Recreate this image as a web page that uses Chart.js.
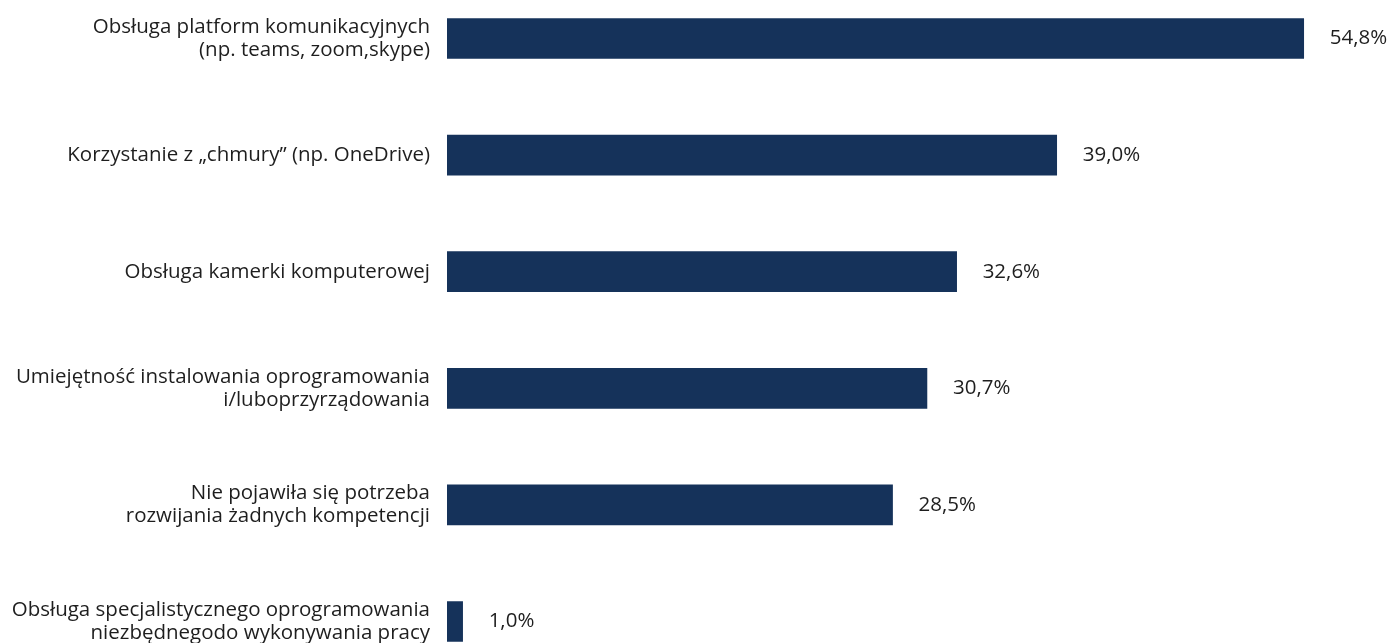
<!DOCTYPE html>
<html>
<head>
<meta charset="utf-8">
<script src="https://cdn.jsdelivr.net/npm/chart.js@4"></script>
<style>
  html, body { margin: 0; padding: 0; background: #fff; overflow: hidden; }
  #wrap { position: absolute; left: 0; top: -60px; width: 1389px; height: 780px; }
</style>
</head>
<body>
<div id="wrap"><canvas id="barChart"></canvas></div>
<script>
// kategorie (etykiety osi Y, wieloliniowe)
const categories = [
    ['Obsługa platform komunikacyjnych', '(np. teams, zoom,skype)'],
    ['Korzystanie z „chmury” (np. OneDrive)'],
    ['Obsługa kamerki komputerowej'],
    ['Umiejętność instalowania oprogramowania', 'i/luboprzyrządowania'],
    ['Nie pojawiła się potrzeba', 'rozwijania żadnych kompetencji'],
    ['Obsługa specjalistycznego oprogramowania', 'niezbędnegodo wykonywania pracy']
];

// wartości w %
const values = [54.8, 39.0, 32.6, 30.7, 28.5, 1.0];

const FONT = '"Open Sans", Lato, sans-serif';

// etykiety wartości za słupkami
const valueLabels = {
    id: 'valueLabels',
    afterDatasetsDraw(chart) {
        const ctx = chart.ctx;
        const meta = chart.getDatasetMeta(0);
        ctx.save();
        ctx.font = '20.5px ' + FONT;
        ctx.fillStyle = '#1e1e1e';
        ctx.textAlign = 'left';
        ctx.textBaseline = 'middle';
        meta.data.forEach(function(bar, i) {
            const txt = values[i].toFixed(1).replace('.', ',') + '%';
            ctx.fillText(txt, bar.x + 26, bar.y);
        });
        ctx.restore();
    }
};

new Chart(document.getElementById('barChart'), {
    type: 'bar',
    data: {
        labels: categories,
        datasets: [{
            data: values,
            backgroundColor: '#15325a',
            barThickness: 40
        }]
    },
    options: {
        indexAxis: 'y',
        responsive: true,
        maintainAspectRatio: false,
        animation: false,
        layout: { padding: { left: 0, right: 4, top: 0, bottom: 0 } },
        plugins: {
            legend: { display: false },
            tooltip: { enabled: false }
        },
        scales: {
            x: {
                display: false,
                min: 0,
                max: 60
            },
            y: {
                grid: { display: false, drawTicks: false },
                border: { display: false },
                afterFit: function(scale) { scale.width = 447; },
                ticks: {
                    padding: 17,
                    color: '#1e1e1e',
                    font: { family: FONT, size: 20.5, lineHeight: 1.13 }
                }
            }
        }
    },
    plugins: [valueLabels]
});
</script>
</body>
</html>
